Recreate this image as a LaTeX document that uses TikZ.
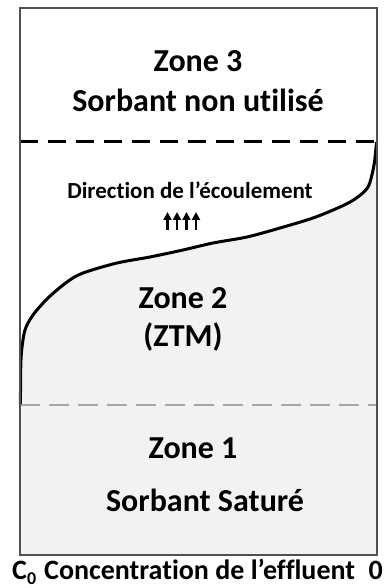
\documentclass[tikz,border=0pt]{standalone}
\usepackage{fontspec}
\setmainfont{Carlito}[Ligatures={TeX,CommonOff}]
\usetikzlibrary{arrows.meta}
\definecolor{saturated}{RGB}{242,242,242}
\definecolor{wall}{RGB}{80,80,80}
\definecolor{limitgrey}{RGB}{166,166,166}
\begin{document}
\begin{tikzpicture}[x=1pt, y=1pt, font=\bfseries\fontsize{32}{36}\selectfont,
		zonelabel/.style={inner sep=0pt},
		flowlabel/.style={inner sep=0pt, font=\bfseries\fontsize{23}{26}\selectfont},
		axislabel/.style={inner sep=0pt, font=\bfseries\fontsize{28}{34}\selectfont},
		flowarrow/.style={line width=2.6pt, -{Triangle[length=8pt, width=8pt]}}]
		\useasboundingbox (0,0) rectangle (384,588);
		% saturated sorbant, below the front
		\fill[saturated] (20,33) -- plot[smooth] coordinates {(20.5,183) (20.6,213) (21.5,236) (25,258) (33,273) (48,290) (67,306) (83,315) (117,325) (150,331) (183,338) (213,345) (247,351) (280,360) (313,370) (340,381) (355,389) (368,401) (374,423) (376.5,446)} -- (377,33) -- cycle;
		% mass transfer front
		\draw[line width=3pt] plot[smooth] coordinates {(20.5,183) (20.6,213) (21.5,236) (25,258) (33,273) (48,290) (67,306) (83,315) (117,325) (150,331) (183,338) (213,345) (247,351) (280,360) (313,370) (340,381) (355,389) (368,401) (374,423) (376.5,446)};
		% zone limits
		\draw[line width=3pt, dash pattern=on 18pt off 10pt] (20,446) -- (377,446);
		\draw[limitgrey, line width=1.5pt, dash pattern=on 20pt off 9pt] (20,183) -- (377,183);
		% column wall
		\draw[wall, line width=1.4pt] (20,33) rectangle (377,580);
		% zone labels
		\node[zonelabel] (zone3) at (198,527) {Zone 3};
		\node[zonelabel] (unused) at (198,488) {Sorbant non utilisé};
		\node[flowlabel] (flow) at (190,398) {Direction de l’écoulement};
		\foreach \x in {167.5,177,186.5,196}
			\draw[flowarrow] (\x,358) -- (\x,376);
		\node[zonelabel] (zone2) at (183,290) {Zone 2};
		\node[zonelabel] (ztm) at (183,251) {(ZTM)};
		\node[zonelabel] (zone1) at (193,140) {Zone 1};
		\node[zonelabel] (saturated) at (205,88) {Sorbant Saturé};
		% concentration axis
		\node[axislabel, anchor=base west] (c0) at (12,9) {C{\fontsize{18}{20}\selectfont\raisebox{-5pt}{0}}};
		\node[axislabel, anchor=base west] (effluent) at (44,9) {Concentration de l’effluent};
		\node[axislabel, anchor=base east] (zero) at (383,9) {0};
	\end{tikzpicture}
\end{document}
